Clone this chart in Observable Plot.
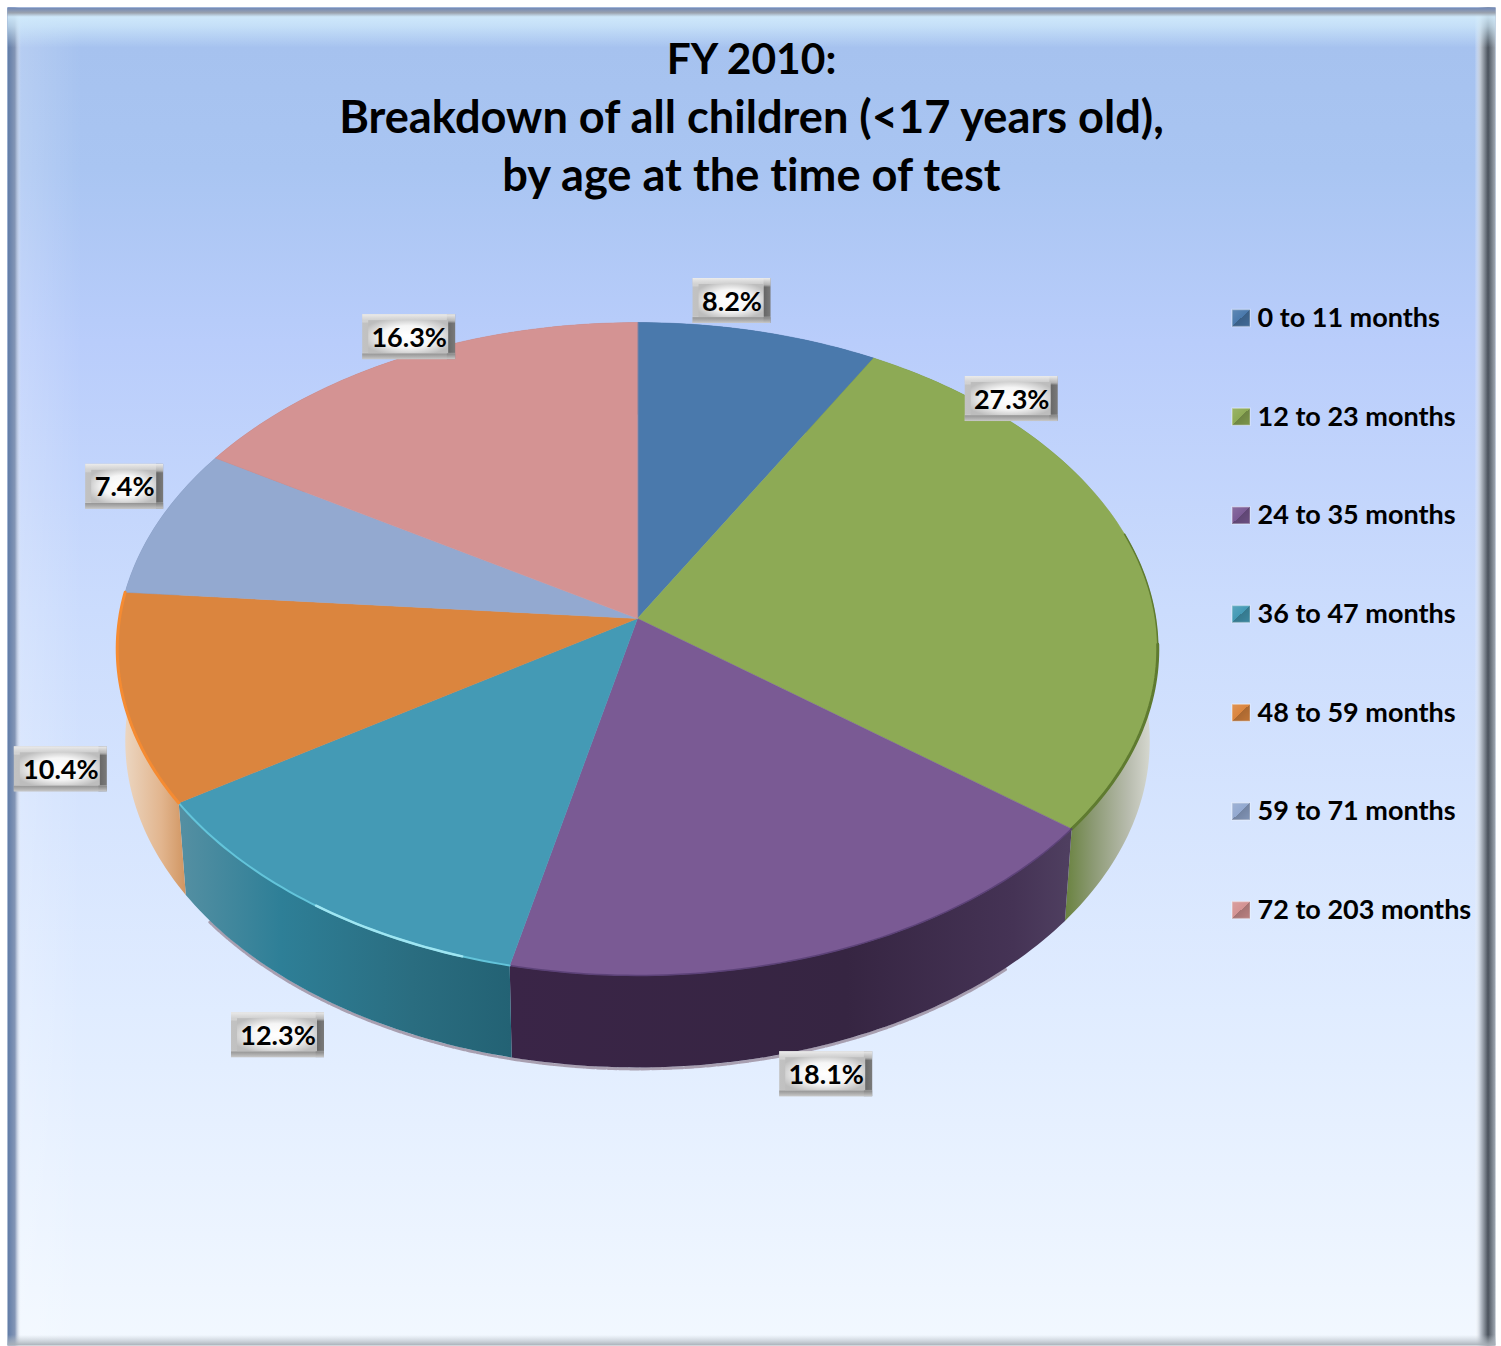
<!DOCTYPE html>
<html>
<head>
<meta charset="utf-8">
<script src="https://cdn.jsdelivr.net/npm/d3@7"></script>
<script src="https://cdn.jsdelivr.net/npm/@observablehq/plot@0.6"></script>
<style>
  html, body { margin: 0; padding: 0; background: #ffffff; }
  svg { display: block; }
  svg text { font-variant-ligatures: none; font-feature-settings: "liga" 0, "clig" 0; }
</style>
</head>
<body>
<div id="chart"></div>
<script>
const titleLines = ["FY 2010:", "Breakdown of all children (<17 years old),", "by age at the time of test"];
const categories = ["0 to 11 months", "12 to 23 months", "24 to 35 months", "36 to 47 months", "48 to 59 months", "59 to 71 months", "72 to 203 months"];
const shares = [8.2, 27.3, 18.1, 12.3, 10.4, 7.4, 16.3];

const topColors = ["#4a79ac", "#8daa55", "#7a5a94", "#449ab5", "#db853e", "#93a9d0", "#d49393"];
const sideFills = ["#3a5f88", "url(#sideGreen)", "url(#sidePurple)", "url(#sideTeal)", "url(#sideOrange)", "#7486a8", "#a87474"];
const rimColors = ["#4a79ac", "#5f7b30", "#5c4278", "#63c4da", "#f58b32", "#93a9d0", "#d49393"];
// label box offset from the rim point at the slice's middle angle
const labelDx = [-26.5, -124.5, -2, -37, -62.5, -34, 6.4];
const labelDy = [-30.5, -157, 121.5, 130, 70.5, -34.5, -20.5];

// Perspective projection of the unit disc onto the page
const view = {cx: 637, topY: 618, bottomY: 710, topA: 518, bottomA: 510, b: 323.6, k: 0.0934};
function project(deg, face, r = 1) {
  const t = deg * Math.PI / 180, u = r * Math.sin(t), v = r * Math.cos(t), w = 1 + view.k * v;
  const a = face === "top" ? view.topA : view.bottomA;
  const y0 = face === "top" ? view.topY : view.bottomY;
  return {x: view.cx + a * u / w, y: y0 - view.b * v / w};
}
const total = d3.sum(shares);
const cum = d3.cumsum(shares);
const slices = shares.map((s, i) => ({
  i, label: s.toFixed(1) + "%", name: categories[i],
  a0: (cum[i] - s) / total * 360, a1: cum[i] / total * 360
}));
function arc(a0, a1, face) {
  const n = Math.max(2, Math.ceil(a1 - a0));
  return d3.range(n + 1).map(j => project(a0 + (a1 - a0) * j / n, face));
}
const wedge = s => [project(0, "top", 0), ...arc(s.a0, s.a1, "top")];
const wall = s => [...arc(s.a0, s.a1, "top"), ...arc(s.a0, s.a1, "bottom").reverse()];

const labelBoxes = slices.map(s => {
  const p = project((s.a0 + s.a1) / 2, "top");
  const half = s.label.length > 4 ? 46.5 : 39;
  const x = p.x + labelDx[s.i], y = p.y + labelDy[s.i];
  return {label: s.label, x, y, x1: x - half, x2: x + half, y1: y - 22.5, y2: y + 22.5,
          ix1: x - half + 6, ix2: x + half - 7, iy1: y - 16.5, iy2: y + 16.5};
});
const legendRows = categories.map((name, i) => {
  const y = 318 + i * 98.67;
  return {name, color: topColors[i], y, x1: 1232, x2: 1250, y1: y - 8.5, y2: y + 8.5, tx: 1257};
});
const titleRows = titleLines.map((text, i) => ({text, x: 751, y: 60 + i * 58}));

const defs = () => {
  const g = document.createElementNS("http://www.w3.org/2000/svg", "defs");
  g.innerHTML = `
  <linearGradient id="bg" x1="0" y1="0" x2="0" y2="1">
    <stop offset="0" stop-color="#a5c1ee"/><stop offset=".12" stop-color="#a9c5f2"/>
    <stop offset=".25" stop-color="#b9cdfb"/><stop offset=".45" stop-color="#cbdcfd"/>
    <stop offset=".75" stop-color="#e0ecff"/><stop offset="1" stop-color="#f2f8ff"/>
  </linearGradient>
  <linearGradient id="edgeH" x1="0" y1="0" x2="1" y2="0">
    <stop offset="0" stop-color="#5f7ba6"/><stop offset=".005" stop-color="#8496b6"/>
    <stop offset=".009" stop-color="#ffffff" stop-opacity=".18"/><stop offset=".05" stop-color="#ffffff" stop-opacity="0"/>
    <stop offset=".986" stop-color="#ffffff" stop-opacity="0"/><stop offset=".99" stop-color="#bcc4ce"/>
    <stop offset=".995" stop-color="#4a525c"/><stop offset="1" stop-color="#a4acb6"/>
  </linearGradient>
  <linearGradient id="edgeV" x1="0" y1="0" x2="0" y2="1">
    <stop offset="0" stop-color="#6f88b8"/><stop offset=".004" stop-color="#9aa2ae"/>
    <stop offset=".007" stop-color="#d2ecfc" stop-opacity=".9"/><stop offset=".014" stop-color="#d2ecfc" stop-opacity=".7"/>
    <stop offset=".03" stop-color="#d2ecfc" stop-opacity="0"/>
    <stop offset=".992" stop-color="#c0c8d0" stop-opacity="0"/><stop offset="1" stop-color="#a8b0b8"/>
  </linearGradient>
  <linearGradient id="sideGreen" gradientUnits="userSpaceOnUse" x1="1062" y1="0" x2="1150" y2="0">
    <stop offset="0" stop-color="#66803a"/><stop offset=".35" stop-color="#8c9a74"/>
    <stop offset=".75" stop-color="#b8bcae"/><stop offset="1" stop-color="#d6d8d0"/>
  </linearGradient>
  <linearGradient id="sidePurple" gradientUnits="userSpaceOnUse" x1="511" y1="0" x2="1069" y2="0">
    <stop offset="0" stop-color="#3a2547"/><stop offset=".6" stop-color="#362542"/>
    <stop offset=".9" stop-color="#453355"/><stop offset="1" stop-color="#4f3f60"/>
  </linearGradient>
  <linearGradient id="sideTeal" gradientUnits="userSpaceOnUse" x1="181" y1="0" x2="511" y2="0">
    <stop offset="0" stop-color="#548fa2"/><stop offset=".3" stop-color="#2e7f97"/>
    <stop offset=".7" stop-color="#2a6d80"/><stop offset="1" stop-color="#236274"/>
  </linearGradient>
  <linearGradient id="sideOrange" gradientUnits="userSpaceOnUse" x1="122" y1="0" x2="187" y2="0">
    <stop offset="0" stop-color="#ecd8c4"/><stop offset=".6" stop-color="#e2b58e"/>
    <stop offset="1" stop-color="#cf935e"/>
  </linearGradient>
  <linearGradient id="boxOuter" x1="0" y1="0" x2="1" y2="0">
    <stop offset="0" stop-color="#c2c2c2"/><stop offset=".905" stop-color="#b0b0b0"/>
    <stop offset=".915" stop-color="#666666"/><stop offset="1" stop-color="#7a7a7a"/>
  </linearGradient>
  <linearGradient id="boxShade" x1="0" y1="0" x2="0" y2="1">
    <stop offset="0" stop-color="#ececec"/><stop offset=".14" stop-color="#d8d8d8" stop-opacity=".7"/>
    <stop offset=".2" stop-color="#ffffff" stop-opacity="0"/><stop offset=".85" stop-color="#ffffff" stop-opacity="0"/>
    <stop offset=".88" stop-color="#8f8f8f" stop-opacity=".8"/><stop offset="1" stop-color="#c9c9c9"/>
  </linearGradient>
  <radialGradient id="boxInner" cx=".5" cy=".5" r=".6">
    <stop offset="0" stop-color="#ffffff"/><stop offset=".55" stop-color="#f6f6f6"/><stop offset="1" stop-color="#bdbdbd"/>
  </radialGradient>
  <linearGradient id="swatch" x1="0" y1="0" x2="1" y2="1">
    <stop offset="0" stop-color="#ffffff" stop-opacity=".12"/><stop offset=".5" stop-color="#ffffff" stop-opacity="0"/>
    <stop offset=".5" stop-color="#000000" stop-opacity=".22"/><stop offset="1" stop-color="#000000" stop-opacity=".12"/>
  </linearGradient>`;
  return g;
};

const polygon = (pts, opts) => Plot.line(pts, {x: "x", y: "y", curve: "linear-closed", ...opts});
const rim = (s, from, to, stroke, width) =>
  Plot.line(arc(from ?? s.a0, to ?? s.a1, "top"), {x: "x", y: "y", stroke, strokeWidth: width});

const font = "Lato, Carlito, 'Noto Sans', sans-serif";
const fringe = arc(slices[2].a0 + 10, slices[3].a1 - 5, "bottom").map(p => ({x: p.x, y: p.y + 1.5}));

const chart = Plot.plot({
  width: 1501, height: 1346,
  margin: 0,
  x: {domain: [0, 1501], range: [0, 1501], axis: null},
  y: {domain: [0, 1346], range: [0, 1346], axis: null},
  style: {background: "transparent", fontFamily: font},
  marks: [
    defs,
    Plot.frame({fill: "url(#bg)", stroke: "none", insetLeft: 7, insetRight: 6, insetTop: 7, insetBottom: 1}),
    Plot.frame({fill: "url(#edgeH)", stroke: "none", insetLeft: 7, insetRight: 6, insetTop: 7, insetBottom: 1}),
    Plot.frame({fill: "url(#edgeV)", stroke: "none", insetLeft: 7, insetRight: 6, insetTop: 7, insetBottom: 1}),

    Plot.text(titleRows.slice(0, 1), {x: "x", y: "y", text: "text", fontSize: 42.5, fontWeight: 700, fill: "#000", lineAnchor: "middle"}),
    Plot.text(titleRows.slice(1), {x: "x", y: "y", text: "text", fontSize: 45.2, fontWeight: 700, fill: "#000", lineAnchor: "middle"}),

    Plot.line(fringe, {x: "x", y: "y", stroke: "#a89fb0", strokeWidth: 3, strokeDasharray: "9 2"}),
    ...slices.map(s => polygon(wall(s), {fill: sideFills[s.i], stroke: "none"})),
    ...slices.map(s => polygon(wedge(s), {fill: topColors[s.i], stroke: topColors[s.i], strokeWidth: 0.5})),

    rim(slices[1], slices[1].a0 + 45, slices[1].a1, rimColors[1], 1.5),
    rim(slices[1], slices[1].a0 + 65, slices[1].a1, rimColors[1], 3),
    rim(slices[2], null, null, rimColors[2], 1.5),
    rim(slices[3], null, null, rimColors[3], 2),
    rim(slices[3], slices[3].a0 + 5, slices[3].a0 + 22, "#9fe6f2", 2.5),
    rim(slices[4], null, null, rimColors[4], 3),

    Plot.rect(labelBoxes, {x1: "x1", x2: "x2", y1: "y1", y2: "y2", fill: "url(#boxOuter)"}),
    Plot.rect(labelBoxes, {x1: "x1", x2: "x2", y1: "y1", y2: "y2", fill: "url(#boxShade)"}),
    Plot.rect(labelBoxes, {x1: "ix1", x2: "ix2", y1: "iy1", y2: "iy2", fill: "url(#boxInner)"}),
    Plot.text(labelBoxes, {x: "x", y: "y", dy: 1, text: "label", fontSize: 27, fontWeight: 700, fill: "#000", lineAnchor: "middle"}),

    Plot.rect(legendRows, {x1: "x1", x2: "x2", y1: "y1", y2: "y2", fill: "color", stroke: "#ffffff", strokeOpacity: 0.35, strokeWidth: 1.5}),
    Plot.rect(legendRows, {x1: "x1", x2: "x2", y1: "y1", y2: "y2", fill: "url(#swatch)"}),
    Plot.text(legendRows, {x: "tx", y: "y", text: "name", textAnchor: "start", fontSize: 27, fontWeight: 700, fill: "#000", lineAnchor: "middle"})
  ],
  color: {type: "identity"}
});
document.getElementById("chart").appendChild(chart);
</script>
</body>
</html>
